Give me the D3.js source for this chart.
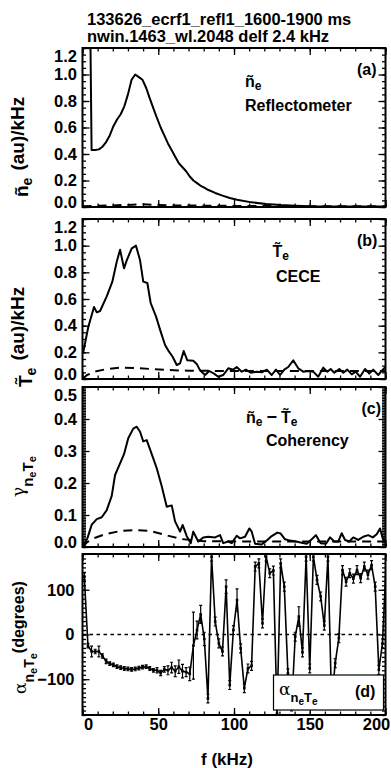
<!DOCTYPE html>
<html><head><meta charset="utf-8">
<script src="https://cdn.jsdelivr.net/npm/d3@7"></script>
<style>
body{margin:0;background:#fff}
svg text{font-family:"Liberation Sans",Arial,Helvetica,sans-serif;font-weight:bold;fill:#000}
</style></head><body>
<svg id="fig" width="391" height="768"></svg>
<script>
// ---- data ----
const titleLines = ["133626_ecrf1_refl1_1600-1900 ms", "nwin.1463_wl.2048 delf 2.4 kHz"];
const DELF = 2.4;
const xTicks = [0, 50, 100, 150, 200];
const ampTicks = [0, 0.2, 0.4, 0.6, 0.8, 1.0, 1.2];
const cohTicks = [0, 0.1, 0.2, 0.3, 0.4, 0.5];
const phaseTicks = [-100, 0, 100];

// (a) reflectometer density spectrum
const neF = [3.6, 6, 8.4, 10.8, 13.2, 15.6, 18, 20.4, 22.8, 25.2, 27.6, 30, 32.4, 34.8, 37.2, 39.6, 42, 44.4, 46.8, 49.2, 51.6, 54, 56.4, 58.8, 61.2, 63.6, 66, 68.4, 70.8, 73.2, 75.6, 78, 80.4, 82.8, 87.6, 92.4, 97.2, 102, 111.6, 121.2, 130.8, 140.4, 150, 171.2, 200];
const neSpec = [3.0, 0.43, 0.43, 0.435, 0.455, 0.49, 0.54, 0.61, 0.66, 0.70, 0.76, 0.85, 0.96, 1.0, 0.98, 0.96, 0.90, 0.82, 0.745, 0.67, 0.60, 0.54, 0.48, 0.43, 0.38, 0.33, 0.30, 0.27, 0.23, 0.20, 0.18, 0.16, 0.146, 0.13, 0.106, 0.086, 0.068, 0.055, 0.035, 0.023, 0.015, 0.01, 0.006, 0.004, 0.003];
const neNoiseF = [0, 10, 20, 30, 40, 50, 60, 80, 100, 150, 200];
const neNoise = [0.006, 0.01, 0.012, 0.016, 0.02, 0.016, 0.012, 0.01, 0.008, 0.006, 0.005];

// (b) CECE temperature spectrum
const teF = [0.5, 3.8, 7.6, 9.4, 11.6, 16, 19.7, 22.6, 24.8, 27.4, 29.2, 32.5, 35.3, 38, 40.1, 42.8, 45, 48.5, 51.6, 54.5, 57.1, 59.5, 62.2, 64.4, 66.8, 69.2, 73.1, 75.6, 77.6, 80.9, 83.7, 86.8, 89.6, 92.9, 96.2, 99.5, 101.8, 105.1, 107.9, 111, 115, 118.3, 121.6, 124.9, 127.7, 130.4, 133.2, 135.8, 139.1, 142.4, 145.7, 149, 152.3, 155.6, 158.9, 161.6, 163.8, 166.2, 169.5, 172.1, 174.8, 177.7, 180.3, 183.2, 186.5, 189.3, 191.9, 195.2, 198.2, 200];
const teSpec = [0.20, 0.39, 0.54, 0.50, 0.51, 0.62, 0.73, 0.88, 0.97, 0.83, 0.89, 0.98, 1.0, 0.89, 0.73, 0.72, 0.57, 0.47, 0.355, 0.255, 0.205, 0.167, 0.105, 0.118, 0.21, 0.14, 0.137, 0.11, 0.065, 0.03, 0.06, 0.04, 0.017, 0.03, 0.08, 0.07, 0.09, 0.055, 0.07, 0.047, 0.055, 0.05, 0.07, 0.03, 0.07, 0.03, 0.07, 0.09, 0.14, 0.08, 0.055, 0.06, 0.055, 0.017, 0.085, 0.055, 0.075, 0.047, 0.075, 0.047, 0.07, 0.035, 0.055, 0.017, 0.075, 0.04, 0.07, 0.03, 0.07, 0.09];
const teNoiseF = [0, 3, 8, 15, 25, 35, 45, 55, 70, 100, 200];
const teNoise = [0, 0.03, 0.055, 0.072, 0.085, 0.083, 0.075, 0.068, 0.062, 0.06, 0.06];

// (c) coherency
const cohF = [0.5, 3.2, 6.1, 9.4, 12.7, 16, 19.3, 21.5, 24.3, 27.4, 30.2, 33.5, 35.8, 38, 40.1, 42.4, 45.7, 49, 52.3, 55.6, 58.9, 61.1, 64.4, 66.1, 68.8, 71.4, 73.1, 76.4, 79.7, 83, 87.5, 90.8, 92.9, 96.2, 98.5, 101.8, 104, 107.3, 110.1, 111.7, 113.9, 118.3, 122, 124.9, 128.6, 130.8, 133.7, 137, 140.9, 144.7, 148, 151.3, 154.1, 157.2, 160.7, 163.4, 166.2, 168.8, 171.1, 173.3, 176.1, 178.7, 182, 185.3, 188.6, 191.6, 194.2, 196.4, 198.2, 200];
const cohVal = [0.0, 0.027, 0.07, 0.087, 0.093, 0.115, 0.16, 0.225, 0.256, 0.29, 0.34, 0.37, 0.376, 0.36, 0.33, 0.334, 0.29, 0.246, 0.19, 0.126, 0.13, 0.08, 0.048, 0.069, 0.034, 0.012, 0.048, 0.017, 0.03, 0.032, 0.03, 0.037, 0.012, 0.017, 0.012, 0.035, 0.027, 0.032, 0.058, 0.048, 0.01, 0.008, 0.022, 0.034, 0.045, 0.042, 0.024, 0.02, 0.017, 0.013, 0.01, 0.024, 0.037, 0.012, 0.01, 0.03, 0.017, 0.017, 0.043, 0.022, 0.017, 0.03, 0.022, 0.032, 0.037, 0.03, 0.04, 0.058, 0.027, 0.017];
const cohNoiseF = [0, 3, 8, 15, 25, 35, 45, 55, 65, 80, 120, 200];
const cohNoise = [0, 0.015, 0.028, 0.04, 0.05, 0.053, 0.05, 0.037, 0.025, 0.018, 0.017, 0.017];

// (d) cross phase (degrees) and its uncertainty, one entry per DELF bin
const phaseDeg = [130, -25, -38, -38, -38, -48, -60, -65, -68, -72, -74, -76, -77, -78, -77, -75, -73, -72, -76, -80,
  -80, -86, -78, -80, -74, -82, -72, -82, -84, -88, -25, 10, 45, -10, -143, 174, 29, -20, -38, 107,
  -113, 10, 77, -31, -120, -76, -70, 152, 159, 25, 174, 137, 143, -176, 159, 107, -87, -161, -5, 40,
  -40, 174, -76, 174, 122, 85, 20, 174, -150, -64, -8, 144, 118, 137, 125, 144, 126, 152, 134, 155,
  107, -79, -20, 160];
const phaseErr = [8, 5, 12, 5, 12, 5, 5, 4, 4, 4, 4, 4, 4, 4, 4, 4, 4, 4, 4, 4,
  6, 6, 6, 10, 12, 12, 15, 15, 10, 15, 75, 20, 20, 15, 10, 10, 10, 10, 10, 15,
  10, 10, 25, 10, 10, 10, 10, 10, 10, 10, 10, 10, 10, 10, 10, 10, 10, 10, 10, 22,
  10, 10, 10, 10, 10, 10, 10, 10, 10, 10, 10, 10, 10, 10, 10, 10, 10, 10, 10, 10,
  10, 10, 10, 10];

// ---- layout ----
const X0 = 82.5, X1 = 385.5;
const svg = d3.select("#fig");
const x = d3.scaleLinear().domain([0, 200]).range([X0, X1]);
const xMinor = d3.range(0, 201, 10);

function styleAxis(g, size) {
  g.attr("font-family", null).attr("font-size", null);
  g.select(".domain").remove();
  g.selectAll(".tick line").attr("stroke", "#000").attr("stroke-width", 1.3);
  g.selectAll(".tick text").attr("font-size", size || 16.5);
}

function panel(p) {
  const y = d3.scaleLinear().domain(p.domain).range([p.bottom, p.top]);
  const id = "clip-" + p.key;
  svg.append("clipPath").attr("id", id).append("rect")
    .attr("x", X0).attr("y", p.top).attr("width", X1 - X0).attr("height", p.bottom - p.top);
  const plot = svg.append("g").attr("clip-path", `url(#${id})`);
  const axes = svg.append("g");
  const [lo, hi] = p.domain;
  // left axis with labels, end labels pulled inside the frame
  const left = axes.append("g").attr("transform", `translate(${X0},0)`)
    .call(d3.axisLeft(y).tickValues(p.ticks).tickSize(-7).tickSizeOuter(0).tickPadding(p.pad).tickFormat(p.fmt));
  styleAxis(left);
  left.selectAll(".tick text").attr("y", d => d === hi ? 8.5 : d === lo ? -5 : 0);
  axes.append("g").attr("transform", `translate(${X0},0)`)
    .call(d3.axisLeft(y).tickValues(p.minor).tickSize(-3.5).tickSizeOuter(0).tickFormat("")).call(styleAxis);
  axes.append("g").attr("transform", `translate(${X1},0)`)
    .call(d3.axisRight(y).tickValues(p.ticks).tickSize(-7).tickSizeOuter(0).tickFormat("")).call(styleAxis);
  axes.append("g").attr("transform", `translate(${X1},0)`)
    .call(d3.axisRight(y).tickValues(p.minor).tickSize(-3.5).tickSizeOuter(0).tickFormat("")).call(styleAxis);
  axes.append("g").attr("transform", `translate(0,${p.top})`)
    .call(d3.axisTop(x).tickValues(xTicks).tickSize(-7).tickSizeOuter(0).tickFormat("")).call(styleAxis);
  axes.append("g").attr("transform", `translate(0,${p.top})`)
    .call(d3.axisTop(x).tickValues(xMinor).tickSize(-3.5).tickSizeOuter(0).tickFormat("")).call(styleAxis);
  const bottom = axes.append("g").attr("transform", `translate(0,${p.bottom})`)
    .call(d3.axisBottom(x).tickValues(xTicks).tickSize(-7).tickSizeOuter(0).tickPadding(3)
      .tickFormat(p.xLabels ? d3.format("d") : ""));
  styleAxis(bottom, 16.5);
  bottom.selectAll(".tick text").attr("x", d => d === 0 ? 5.5 : d === 200 ? -9.5 : 0);
  axes.append("g").attr("transform", `translate(0,${p.bottom})`)
    .call(d3.axisBottom(x).tickValues(xMinor).tickSize(-3.5).tickSizeOuter(0).tickFormat("")).call(styleAxis);
  axes.append("rect").attr("x", X0).attr("y", p.top).attr("width", X1 - X0).attr("height", p.bottom - p.top)
    .attr("fill", "none").attr("stroke", "#000").attr("stroke-width", 2);
  return { y, plot, axes };
}

function curve(target, y, fs, vs, dashed) {
  target.append("path")
    .datum(fs.map((f, i) => [f, vs[i]]))
    .attr("fill", "none").attr("stroke", "#000").attr("stroke-width", 2)
    .attr("stroke-linejoin", "round")
    .attr("stroke-dasharray", dashed ? "9,6" : null)
    .attr("d", d3.line().x(d => x(d[0])).y(d => y(d[1])));
}

// title
svg.append("g").selectAll("text").data(titleLines).join("text")
  .attr("x", 87).attr("y", (d, i) => 24.5 + i * 17.5)
  .attr("font-size", 16.5).text(d => d);

// (a)
const pa = panel({ key: "a", top: 48, bottom: 207, domain: [0, 1.2], ticks: ampTicks,
  minor: d3.range(0, 1.2001, 0.05), fmt: d3.format(".1f"), pad: 5.5 });
curve(pa.plot, pa.y, neNoiseF, neNoise, true);
curve(pa.plot, pa.y, neF, neSpec, false);

// (b)
const pb = panel({ key: "b", top: 219, bottom: 379, domain: [0, 1.2], ticks: ampTicks,
  minor: d3.range(0, 1.2001, 0.05), fmt: d3.format(".1f"), pad: 5.5 });
curve(pb.plot, pb.y, teNoiseF, teNoise, true);
curve(pb.plot, pb.y, teF, teSpec, false);

// (c)
const pc = panel({ key: "c", top: 387, bottom: 547, domain: [0, 0.5], ticks: cohTicks,
  minor: d3.range(0, 0.5001, 0.005), fmt: d3.format(".1f"), pad: 5.5 });
curve(pc.plot, pc.y, cohNoiseF, cohNoise, true);
curve(pc.plot, pc.y, cohF, cohVal, false);

// (d)
const pd = panel({ key: "d", top: 554, bottom: 715, domain: [-180, 180], ticks: phaseTicks,
  minor: d3.range(-180, 181, 10), fmt: d3.format("d"), pad: 8, xLabels: true });
pd.plot.append("line").attr("x1", X0).attr("x2", X1).attr("y1", pd.y(0)).attr("y2", pd.y(0))
  .attr("stroke", "#000").attr("stroke-width", 1.6).attr("stroke-dasharray", "3.5,3.5");
// points sit at the centre of each frequency bin
const phasePts = phaseDeg.map((v, i) => ({ f: (i + 0.5) * DELF, v, e: phaseErr[i] }));
const eb = pd.plot.append("g").attr("stroke", "#000").attr("stroke-width", 1.2);
eb.selectAll("line.bar").data(phasePts).join("line").attr("class", "bar")
  .attr("x1", d => x(d.f)).attr("x2", d => x(d.f))
  .attr("y1", d => pd.y(d.v - d.e)).attr("y2", d => pd.y(d.v + d.e));
eb.selectAll("line.capT").data(phasePts).join("line").attr("class", "capT")
  .attr("x1", d => x(d.f) - 1.5).attr("x2", d => x(d.f) + 1.5)
  .attr("y1", d => pd.y(d.v + d.e)).attr("y2", d => pd.y(d.v + d.e));
eb.selectAll("line.capB").data(phasePts).join("line").attr("class", "capB")
  .attr("x1", d => x(d.f) - 1.5).attr("x2", d => x(d.f) + 1.5)
  .attr("y1", d => pd.y(d.v - d.e)).attr("y2", d => pd.y(d.v - d.e));
pd.plot.append("path").datum(phasePts)
  .attr("fill", "none").attr("stroke", "#000").attr("stroke-width", 1.6)
  .attr("d", d3.line().x(d => x(d.f)).y(d => pd.y(d.v)));
pd.plot.append("g").selectAll("rect").data(phasePts).join("rect")
  .attr("x", d => x(d.f) - 1.3).attr("y", d => pd.y(d.v) - 1.3)
  .attr("width", 2.6).attr("height", 2.6).attr("fill", "#000");

// legend box in (d)
const lg = svg.append("g");
lg.append("rect").attr("x", 273.5).attr("y", 675).attr("width", 110).attr("height", 35)
  .attr("fill", "#fff").attr("stroke", "#000").attr("stroke-width", 1.2);
const lt = lg.append("text").attr("x", 279).attr("y", 695);
lt.append("tspan").attr("font-family", '"DejaVu Serif",serif').attr("font-weight", "normal").attr("font-size", 17).text("α");
lt.append("tspan").attr("dy", 7).attr("font-size", 13).text("n");
lt.append("tspan").attr("dy", 3).attr("font-size", 10).text("e");
lt.append("tspan").attr("dy", -3).attr("font-size", 13).text("T");
lt.append("tspan").attr("dy", 3).attr("font-size", 10).text("e");
lg.append("text").attr("x", 355).attr("y", 697).attr("font-size", 16).text("(d)");

// panel annotations
function label(x0, y0, parts, size) {
  const t = svg.append("text").attr("x", x0).attr("y", y0).attr("font-size", size || 16);
  parts.forEach(p => t.append("tspan").attr("dy", p.dy || 0).attr("dx", p.dx || 0)
    .attr("font-size", p.size || null).text(p.t));
  return t;
}
label(357, 75, [{ t: "(a)" }]);
label(245, 87, [{ t: "ñ" }, { t: "e", dy: 3, size: 12 }]);
label(245, 110.5, [{ t: "Reflectometer" }]);

label(357, 246, [{ t: "(b)" }]);
label(272.5, 256.5, [{ t: "T\u0303" }, { t: "e", dy: 3, size: 12 }]);
label(276, 281.5, [{ t: "CECE" }]);

label(361.5, 414, [{ t: "(c)" }]);
label(246, 423, [{ t: "ñ" }, { t: "e", dy: 3, size: 12 }, { t: "\u2212", dy: -3, dx: 4, size: 18 }, { t: "T\u0303", dx: 4 }, { t: "e", dy: 3, size: 12 }]);
label(266, 446, [{ t: "Coherency" }]);

// y-axis titles (rotated)
function yTitle(tx, ty, parts) {
  const t = svg.append("text").attr("transform", `translate(${tx},${ty}) rotate(-90)`).attr("font-size", 19);
  parts.forEach(p => {
    const s = t.append("tspan").attr("dy", p.dy || 0).attr("dx", p.dx || 0).attr("font-size", p.size || null).text(p.t);
    if (p.greek) s.attr("font-family", '"DejaVu Serif",serif').attr("font-weight", "normal");
  });
}
yTitle(28, 197, [{ t: "ñ" }, { t: "e", dy: 4, size: 14 }, { t: "(au)/kHz", dy: -8, dx: 7 }]);
yTitle(32, 387, [{ t: "T\u0303" }, { t: "e", dy: 4, size: 14 }, { t: "(au)/kHz", dy: -12, dx: 7 }]);
yTitle(24, 497, [{ t: "γ", greek: true, size: 17 }, { t: "n", dy: 9, size: 15 }, { t: "e", dy: 3, size: 11 }, { t: "T", dy: -3, size: 15 }, { t: "e", dy: 3, size: 11 }]);
yTitle(26, 694, [{ t: "α", greek: true, size: 17 }, { t: "n", dy: 8, size: 14 }, { t: "e", dy: 3, size: 11 }, { t: "T", dy: -3, size: 14 }, { t: "e", dy: 3, size: 11 }, { t: "(degrees)", dy: -13, size: 16 }]);

// x-axis title
svg.append("text").attr("x", 227).attr("y", 765).attr("text-anchor", "middle").attr("font-size", 17).text("f (kHz)");
</script>
</body></html>
